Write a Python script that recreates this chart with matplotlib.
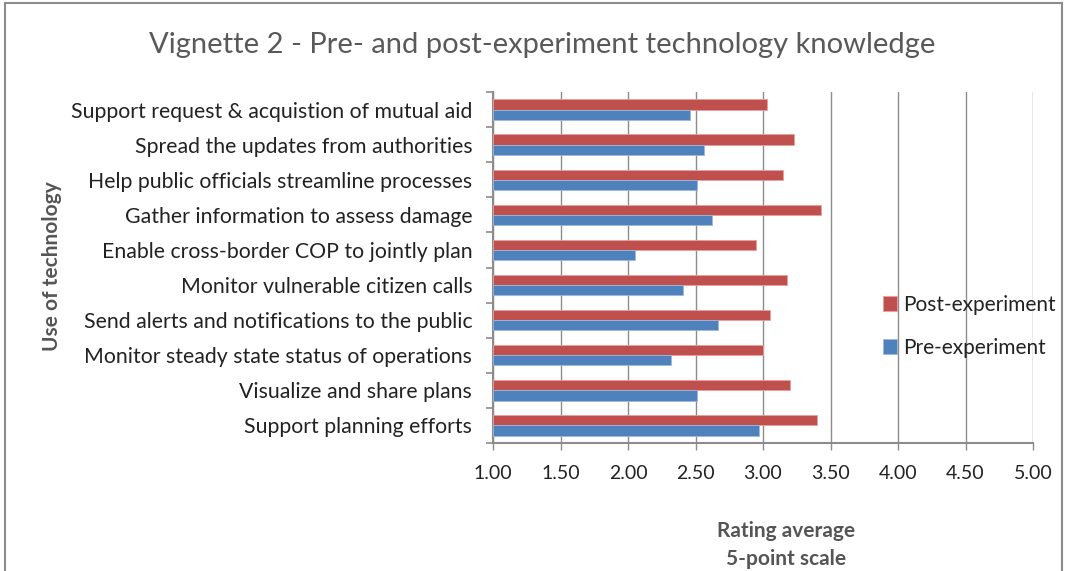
import matplotlib
matplotlib.use("Agg")
import matplotlib.pyplot as plt
from matplotlib.patches import Rectangle
import numpy as np

categories = [
    "Support request & acquistion of mutual aid",
    "Spread the updates from authorities",
    "Help public officials streamline processes",
    "Gather information to assess damage",
    "Enable cross-border COP to jointly plan",
    "Monitor vulnerable citizen calls",
    "Send alerts and notifications to the public",
    "Monitor steady state status of operations",
    "Visualize and share plans",
    "Support planning efforts",
]
post_values = [3.03, 3.23, 3.15, 3.43, 2.95, 3.18, 3.05, 3.00, 3.20, 3.40]
pre_values = [2.46, 2.56, 2.51, 2.62, 2.05, 2.41, 2.67, 2.32, 2.51, 2.97]
xticks = [1.00, 1.50, 2.00, 2.50, 3.00, 3.50, 4.00, 4.50, 5.00]

FONT = ["Lato", "DejaVu Sans"]
plt.rcParams["font.family"] = FONT

W, H = 1068, 571
fig = plt.figure(figsize=(W / 100, H / 100), dpi=100)

# outer frame
fig.patches.append(Rectangle((5 / W, -0.05), (1062 - 5) / W, (H - 3) / H + 0.05,
                             transform=fig.transFigure, fill=False,
                             edgecolor="#8c8c8c", linewidth=1.5))

left, right, top, bottom = 493, 1033, 92, 443
ax = fig.add_axes([left / W, 1 - bottom / H, (right - left) / W, (bottom - top) / H])

n = len(categories)
y = np.arange(n)
h = 0.29
red = "#C0504D"
blue = "#4F81BD"
base = 1.0
ax.barh(y - h / 2, np.array(post_values) - base, left=base, height=h, color=red,
        edgecolor="#e8a09e", linewidth=0.6, label="Post-experiment", zorder=3)
ax.barh(y + h / 2, np.array(pre_values) - base, left=base, height=h, color=blue,
        edgecolor="#9db8dc", linewidth=0.6, label="Pre-experiment", zorder=3)

ax.set_xlim(1.0, 5.0)
ax.set_ylim(n - 0.5, -0.5)
ax.set_xticks(xticks)
ax.set_xticklabels([f"{v:.2f}" for v in xticks], fontsize=14, color="#222222")
ax.set_yticks(y)
ax.set_yticklabels(categories, fontsize=15.3, color="#222222")
ax.set_yticks(np.arange(-0.5, n, 1.0), minor=True)
ax.tick_params(axis="y", which="major", length=0, pad=15)
ax.tick_params(axis="y", which="minor", length=5, color="#8c8c8c", width=1.2)
ax.tick_params(axis="x", which="major", length=5, color="#8c8c8c", width=1.0, pad=11)

ax.grid(axis="x", color="#8c8c8c", linewidth=1.0, zorder=0)
ax.set_axisbelow(True)
for s in ["top", "right"]:
    ax.spines[s].set_visible(False)
ax.spines["left"].set_color("#8c8c8c")
ax.spines["left"].set_linewidth(1.5)
ax.spines["bottom"].set_color("#8c8c8c")
ax.spines["bottom"].set_linewidth(1.5)

fig.text(542 / W, 1 - 45 / H, "Vignette 2 - Pre- and post-experiment technology knowledge",
         ha="center", va="center", fontsize=21, color="#595959")
fig.text(52 / W, 1 - 266 / H, "Use of technology", rotation=90, ha="center", va="center",
         fontsize=15, fontweight="bold", color="#555555")
fig.text(786 / W, 1 - 545 / H, "Rating average\n5-point scale", ha="center", va="center",
         fontsize=15, fontweight="bold", color="#555555", linespacing=1.45)

handles, labels = ax.get_legend_handles_labels()
fig.legend(handles, labels, loc="upper left", bbox_to_anchor=(864 / W, 1 - 276 / H),
           frameon=False, fontsize=15, handlelength=0.7, handleheight=0.7,
           handletextpad=0.3, labelspacing=1.1, labelcolor="#222222")

fig.savefig("out.png", dpi=100)
